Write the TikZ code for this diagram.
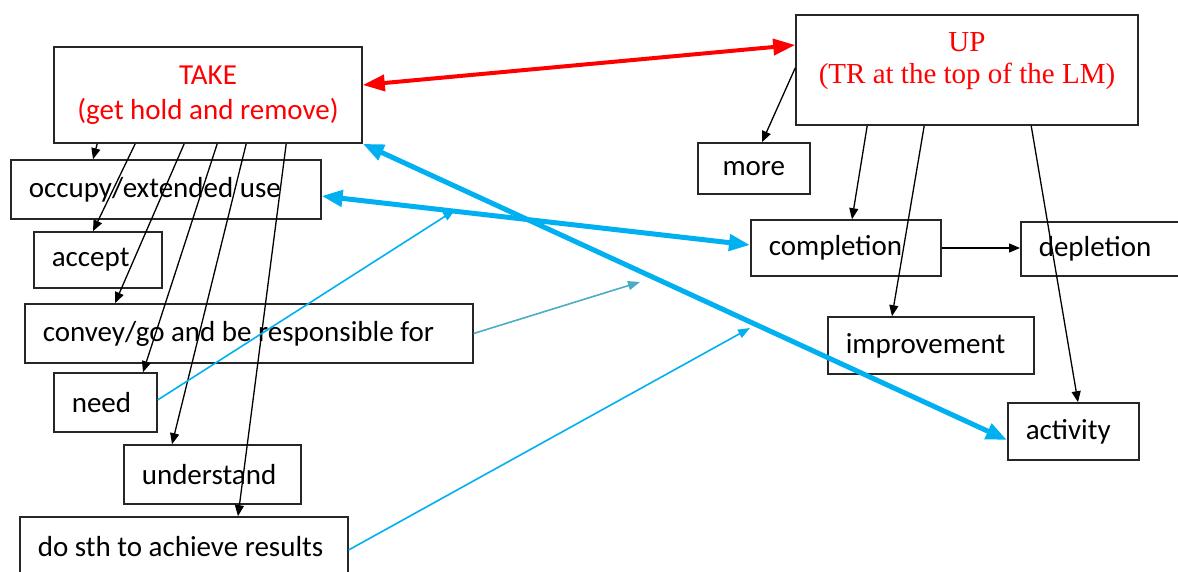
\documentclass[tikz,border=0pt]{standalone}
\usepackage{fontspec}
\setmainfont{Carlito}
\newfontfamily\serifup{Liberation Serif}
\usetikzlibrary{arrows.meta}
\definecolor{skyblue}{HTML}{00B0F0}
\definecolor{tealblue}{HTML}{4BACC6}

\begin{document}
\begin{tikzpicture}[
        x=1pt, y=-1pt,
        font=\fontsize{29}{35}\selectfont,
        wbox/.style={draw=black!85, line width=1.6pt, anchor=west, inner xsep=18pt, inner ysep=0pt, align=flush left},
        hbox/.style={draw=black!85, line width=1.6pt, inner sep=0pt},
        blk/.style={-{Triangle[length=11pt,width=9pt]}, line width=1.3pt},
        thinblue/.style={skyblue, line width=1.6pt, -{Triangle[length=12pt,width=9pt]}},
        fatblue/.style={skyblue, line width=5pt, {Triangle[length=21pt,width=16pt]}-{Triangle[length=21pt,width=16pt]}}
    ]
        \useasboundingbox (0,0) rectangle (1178,572);

        % the two image schemas
        \node[hbox, minimum width=308pt, minimum height=96pt, align=center, text=red] (take) at (208,95) {TAKE\\(get hold and remove)};
        \node[hbox, minimum width=342pt, minimum height=110pt] (up) at (967,70) {};
        \node[font=\serifup\fontsize{29}{32}\selectfont, text=red, align=center] (uplabel) at (967,61) {UP\\(TR at the top of the LM)};

        % senses of TAKE
        \node[wbox, text width=274pt, minimum height=59pt] (occupy) at (10,189.5) {\mbox{occupy/extended use}};
        \node[wbox, text width=92pt, minimum height=56pt] (accept) at (33,260) {\mbox{accept}};
        \node[wbox, text width=412pt, minimum height=59pt] (convey) at (24,333.5) {\mbox{convey/go and be responsible for}};
        \node[wbox, text width=67pt, minimum height=59pt] (need) at (53,402.5) {\mbox{need}};
        \node[wbox, text width=141pt, minimum height=59pt] (understand) at (123,474.5) {\mbox{understand}};
        \node[wbox, text width=292pt, minimum height=59pt] (dosth) at (19,546.5) {\mbox{do sth to achieve results}};

        % senses of UP
        \node[wbox, text width=76pt, minimum height=51pt, align=flush center] (more) at (697,168.5) {\mbox{more}};
        \node[wbox, text width=154pt, minimum height=56pt] (completion) at (750,248) {\mbox{completion}};
        \node[wbox, text width=124pt, minimum height=54pt] (depletion) at (1020,249) {\mbox{depletion}};
        \node[wbox, text width=170pt, minimum height=57pt] (improvement) at (827,345.5) {\mbox{improvement}};
        \node[wbox, text width=95pt, minimum height=57pt] (activity) at (1007,431.5) {\mbox{activity}};

        \coordinate (needend) at (455,210);
        \coordinate (conveyend) at (640,282);
        \coordinate (dosthend) at (750,328);

        \draw[blk] ([xshift=44pt]take.south west) -- ([xshift=83pt]occupy.north west);
        \draw[blk] ([xshift=82pt]take.south west) -- ([xshift=60pt]accept.north west);
        \draw[blk] ([xshift=131pt]take.south west) -- ([xshift=91pt]convey.north west);
        \draw[blk] ([xshift=164pt]take.south west) -- ([xshift=90pt]need.north west);
        \draw[blk] ([xshift=193pt]take.south west) -- ([xshift=49pt]understand.north west);
        \draw[blk] ([xshift=233pt]take.south west) -- ([xshift=219pt]dosth.north west);

        \draw[blk] ([yshift=2pt]up.west) -- ([xshift=65pt]more.north west);
        \draw[blk] ([xshift=72pt]up.south west) -- ([xshift=102pt]completion.north west);
        \draw[blk] ([xshift=129pt]up.south west) -- ([xshift=65pt]improvement.north west);
        \draw[blk] ([xshift=236pt]up.south west) -- ([xshift=71pt]activity.north west);
        \draw[blk] (completion.east) -- (completion.east -| depletion.west);

        % links between the two networks
        \draw[red, line width=4pt, {Triangle[length=22pt,width=16pt]}-{Triangle[length=22pt,width=16pt]}] ([yshift=10pt]take.east) -- ([yshift=25pt]up.west);
        \draw[fatblue] ([yshift=-6.5pt]occupy.east) -- ([yshift=3pt]completion.west);
        \draw[fatblue] (take.south east) -- ([yshift=-8.5pt]activity.west);

        \draw[thinblue] ([yshift=2.5pt]need.east) -- (needend);
        \draw[thinblue, tealblue] (convey.east) -- (conveyend);
        \draw[thinblue] ([yshift=-3.5pt]dosth.east) -- (dosthend);
    \end{tikzpicture}
\end{document}
